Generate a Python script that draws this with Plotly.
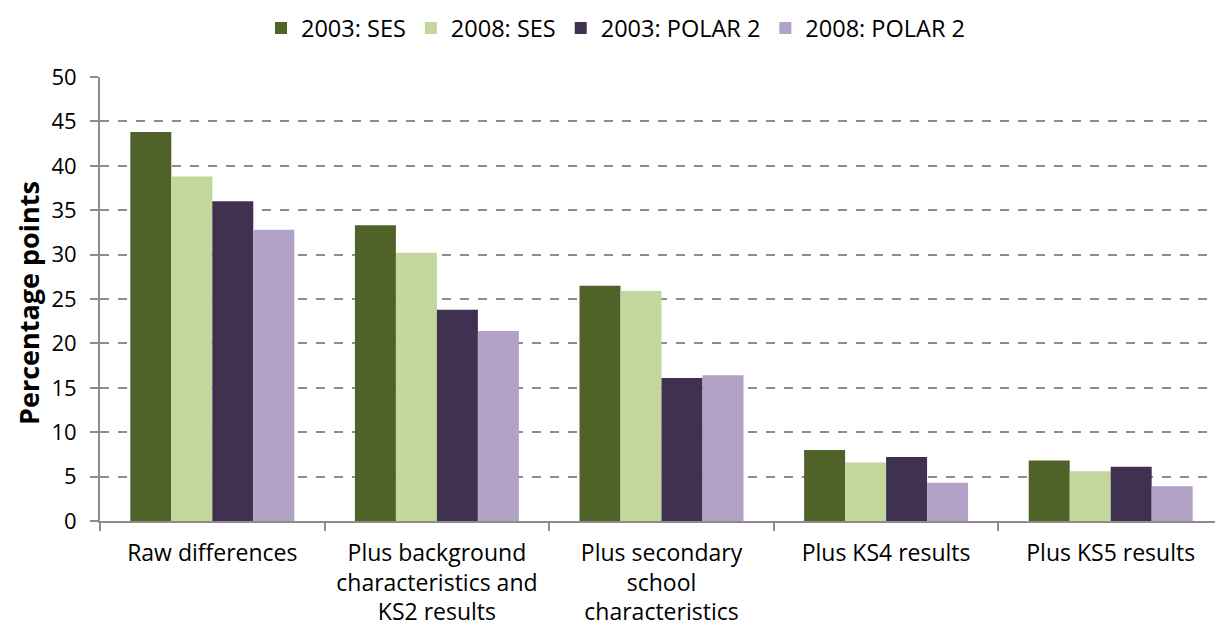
import plotly.graph_objects as go

categories = [
    "Raw differences",
    "Plus background<br>characteristics and<br>KS2 results",
    "Plus secondary<br>school<br>characteristics",
    "Plus KS4 results",
    "Plus KS5 results",
]
series_names = ["2003: SES", "2008: SES", "2003: POLAR 2", "2008: POLAR 2"]
ses_2003 = [43.8, 33.3, 26.5, 8.0, 6.8]
ses_2008 = [38.8, 30.2, 25.9, 6.6, 5.6]
polar_2003 = [36.0, 23.8, 16.1, 7.2, 6.1]
polar_2008 = [32.8, 21.4, 16.4, 4.3, 3.9]
colors = ["#4F6228", "#C3D69B", "#403151", "#B3A2C7"]
y_ticks = [0, 5, 10, 15, 20, 25, 30, 35, 40, 45, 50]

font_family = "'Open Sans', Lato, sans-serif"

fig = go.Figure()
for name, vals, col in zip(series_names, [ses_2003, ses_2008, polar_2003, polar_2008], colors):
    fig.add_trace(go.Bar(name=name, x=categories, y=vals, marker=dict(color=col, line=dict(width=0))))

fig.update_layout(
    width=1215, height=624,
    barmode="group", bargap=0.27, bargroupgap=0,
    plot_bgcolor="white", paper_bgcolor="white",
    margin=dict(l=92, r=0, t=69, b=111, autoexpand=False),
    font=dict(family=font_family, size=23, color="black"),
    legend=dict(orientation="h", x=0.5, xanchor="center", xref="container",
                y=1.11, yanchor="middle", yref="paper",
                font=dict(size=23.5), itemwidth=30, traceorder="normal"),
    showlegend=True,
)
fig.update_xaxes(
    showline=True, linecolor="#8c8c8c", linewidth=2,
    ticks="outside", tickson="boundaries", ticklen=8, tickcolor="#8c8c8c", tickwidth=2,
    tickfont=dict(size=23), showgrid=False, automargin=False,
    ticklabelstandoff=10,
)
fig.update_yaxes(
    range=[0, 50], tickvals=y_ticks,
    showline=True, linecolor="#8c8c8c", linewidth=2,
    ticks="outside", ticklen=8, tickcolor="#8c8c8c", tickwidth=2,
    showgrid=True, gridcolor="#8c8c8c", griddash="dash", gridwidth=1.5,
    tickfont=dict(size=22), automargin=False, ticklabelstandoff=9,
    zeroline=False,
)
fig.add_annotation(
    text="<b>Percentage points</b>", textangle=-90,
    xref="paper", x=0, xanchor="center", xshift=-72,
    yref="paper", y=0.5, yanchor="middle", yshift=-4,
    showarrow=False, font=dict(size=27),
)
fig.write_html("out.html")
